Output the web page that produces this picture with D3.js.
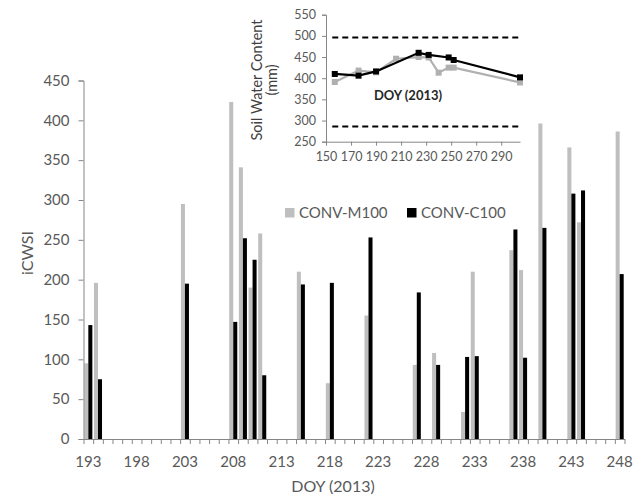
<!DOCTYPE html>
<html>
<head>
<meta charset="utf-8">
<script src="https://d3js.org/d3.v7.min.js"></script>
<style>
  body { margin: 0; background: #fff; }
  svg { display: block; font-family: Lato, 'Open Sans', sans-serif; }
</style>
</head>
<body>
<svg id="chart" width="643" height="496"></svg>
<script>
// main chart: iCWSI per DOY
const firstDay = 193, lastDay = 248;
const days = d3.range(firstDay, lastDay + 1);
const dataDays = [193, 194, 203, 208, 209, 210, 211, 215, 218, 222, 227, 229, 232, 233, 237, 238, 240, 243, 244, 248];
const convM100 = [95, 196, 295, 423, 341, 190, 258, 210, 70, 155, 93, 108, 34, 210, 237, 212, 396, 366, 272, 386];
const convC100 = [143, 75, 195, 147, 252, 225, 80, 194, 196, 253, 184, 93, 103, 104, 263, 102, 265, 308, 312, 207];
const yTicks = [0, 50, 100, 150, 200, 250, 300, 350, 400, 450];
const xLabelDays = [193, 198, 203, 208, 213, 218, 223, 228, 233, 238, 243, 248];

// inset: soil water content
const swcDoyC = [157, 176, 190, 224, 232, 248, 252, 305];
const swcC100 = [410, 406, 416, 460, 455, 449, 443, 402];
const swcDoyM = [157, 176, 190, 206, 224, 232, 240, 248, 252, 305];
const swcM100 = [391, 418, 414, 446, 450, 449, 413, 425, 425, 390];
const swcLimits = [496, 286];
const insetXTicks = [150, 170, 190, 210, 230, 250, 270, 290];
const insetYTicks = [250, 300, 350, 400, 450, 500, 550];

const grey = '#bfbfbf', axisCol = '#868686', textCol = '#595959';

const svg = d3.select('#chart');

const x = d3.scaleBand().domain(days).range([83.5, 624.5]).padding(0);
const xSub = d3.scaleBand().domain(['m', 'c']).range([0, x.bandwidth()]).paddingInner(0).paddingOuter(0.2);
const y = d3.scaleLinear().domain([0, 450]).range([439, 80.5]);

// bars
const bars = dataDays.map((d, i) => ({ day: d, m: convM100[i], c: convC100[i] }));
const g = svg.append('g');
g.selectAll('rect.m').data(bars).join('rect')
  .attr('x', d => x(d.day) + xSub('m')).attr('width', xSub.bandwidth())
  .attr('y', d => y(d.m)).attr('height', d => y(0) - y(d.m))
  .attr('fill', grey);
g.selectAll('rect.c').data(bars).join('rect')
  .attr('x', d => x(d.day) + xSub('c')).attr('width', xSub.bandwidth())
  .attr('y', d => y(d.c)).attr('height', d => y(0) - y(d.c))
  .attr('fill', '#000');

// y axis
const yAxis = svg.append('g').attr('transform', 'translate(83.5,0)')
  .call(d3.axisLeft(y).tickValues(yTicks).tickSize(5).tickPadding(9));
// x axis: ticks between categories, labels on every 5th day
const xEdge = d3.scaleLinear().domain([firstDay - 0.5, lastDay + 0.5]).range([83.5, 624.5]);
const xTickAxis = svg.append('g').attr('transform', 'translate(0,439)')
  .call(d3.axisBottom(xEdge).tickValues(d3.range(firstDay - 0.5, lastDay + 1, 1)).tickFormat('').tickSize(5).tickSizeOuter(0));
const xLabAxis = svg.append('g').attr('transform', 'translate(0,439)')
  .call(d3.axisBottom(x).tickValues(xLabelDays).tickSize(0).tickPadding(17));
xLabAxis.select('.domain').remove();

[yAxis, xTickAxis].forEach(a => {
  a.select('.domain').attr('stroke', axisCol);
  a.selectAll('.tick line').attr('stroke', axisCol);
});
[yAxis, xLabAxis].forEach(a => {
  a.selectAll('.tick text').attr('fill', textCol).attr('font-size', 15).attr('font-family', 'Lato');
});

svg.append('text').text('iCWSI')
  .attr('transform', 'translate(33,253) rotate(-90)')
  .attr('text-anchor', 'middle').attr('font-size', 16).attr('fill', textCol);
svg.append('text').text('DOY (2013)')
  .attr('x', 333).attr('y', 492)
  .attr('text-anchor', 'middle').attr('font-size', 16).attr('fill', textCol);

// legend
const legend = [
  { label: 'CONV-M100', color: grey, x: 285 },
  { label: 'CONV-C100', color: '#000', x: 407 }
];
const lg = svg.append('g').selectAll('g').data(legend).join('g')
  .attr('transform', d => `translate(${d.x},208)`);
lg.append('rect').attr('width', 9.5).attr('height', 9.5).attr('fill', d => d.color);
lg.append('text').text(d => d.label)
  .attr('x', 14).attr('y', 9.5).attr('font-size', 15).attr('fill', textCol);

// inset chart
const ix = d3.scaleLinear().domain([150, 305]).range([326, 520]);
const iy = d3.scaleLinear().domain([250, 550]).range([141.7, 14.7]);
const inset = svg.append('g');

const iyAxis = inset.append('g').attr('transform', 'translate(326,0)')
  .call(d3.axisLeft(iy).tickValues(insetYTicks).tickSize(4).tickPadding(6));
const ixAxis = inset.append('g').attr('transform', 'translate(0,141.7)')
  .call(d3.axisBottom(ix).tickValues(insetXTicks).tickSize(4).tickSizeOuter(0).tickPadding(6));
[iyAxis, ixAxis].forEach(a => {
  a.select('.domain').attr('stroke', axisCol);
  a.selectAll('.tick line').attr('stroke', axisCol);
  a.selectAll('.tick text').attr('fill', textCol).attr('font-size', 12.5).attr('font-family', 'Lato');
});

inset.selectAll('line.limit').data(swcLimits).join('line')
  .attr('x1', ix(155)).attr('x2', ix(305))
  .attr('y1', d => iy(d)).attr('y2', d => iy(d))
  .attr('stroke', '#000').attr('stroke-width', 2).attr('stroke-dasharray', '6,4');

const line = d3.line().x(d => ix(d[0])).y(d => iy(d[1]));
const ptsM = swcDoyM.map((d, i) => [d, swcM100[i]]);
const ptsC = swcDoyC.map((d, i) => [d, swcC100[i]]);
inset.append('path').datum(ptsM).attr('d', line)
  .attr('fill', 'none').attr('stroke', '#b0b0b0').attr('stroke-width', 2.2);
inset.selectAll('rect.pm').data(ptsM).join('rect')
  .attr('x', d => ix(d[0]) - 3).attr('y', d => iy(d[1]) - 3)
  .attr('width', 6).attr('height', 6).attr('fill', '#b0b0b0');
inset.append('path').datum(ptsC).attr('d', line)
  .attr('fill', 'none').attr('stroke', '#000').attr('stroke-width', 2.2);
inset.selectAll('rect.pc').data(ptsC).join('rect')
  .attr('x', d => ix(d[0]) - 3).attr('y', d => iy(d[1]) - 3)
  .attr('width', 6).attr('height', 6).attr('fill', '#000');

inset.append('text')
  .attr('transform', 'translate(262,80) rotate(-90)')
  .attr('text-anchor', 'middle').attr('font-size', 14.5).attr('fill', '#404040')
  .selectAll('tspan').data(['Soil Water Content', '(mm)']).join('tspan')
  .attr('x', 0).attr('dy', (d, i) => i ? 15 : 0).text(d => d);
inset.append('text').text('DOY (2013)')
  .attr('x', 408).attr('y', 100)
  .attr('text-anchor', 'middle').attr('font-size', 13).attr('font-weight', 'bold').attr('fill', '#262626');
</script>
</body>
</html>
